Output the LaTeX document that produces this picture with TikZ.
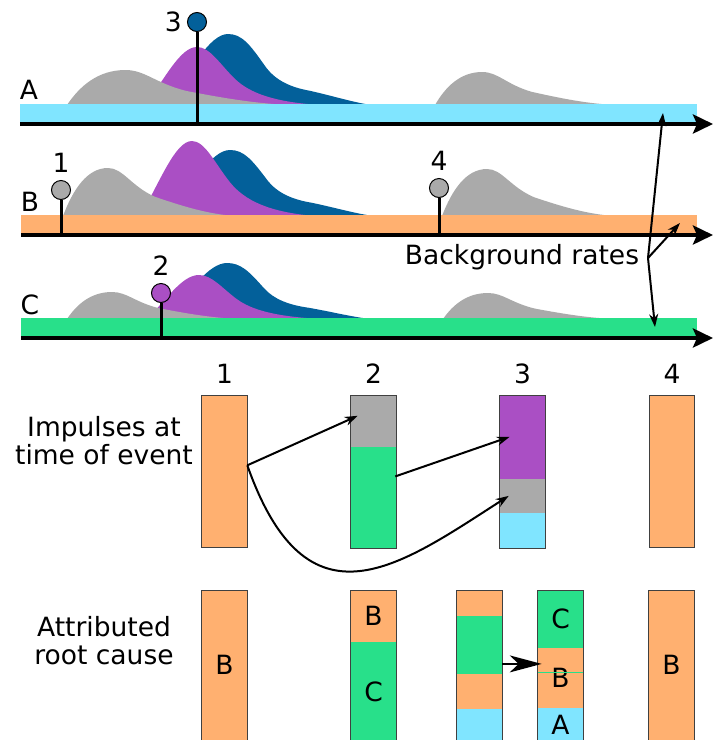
\documentclass[tikz,border=0pt]{standalone}
\usepackage{fontspec}
\setmainfont{DejaVu Sans}
\usepackage{tikz}
\usetikzlibrary{arrows.meta, positioning}

\definecolor{rateA}{HTML}{80E5FF}
\definecolor{rateB}{HTML}{FFB070}
\definecolor{rateC}{HTML}{28E08A}
\definecolor{bgimp}{HTML}{AAAAAA}
\definecolor{impmid}{HTML}{AA4FC4}
\definecolor{impdark}{HTML}{03609A}

% humps: start, baseline, height (and stretch for the grey one)
\newcommand{\bghump}[4]{\fill[bgimp, shift={(#1,#2)}, xscale=#4, yscale=-#3]
  (0,0) .. controls (10,0.55) and (24,1) .. (45,1) .. controls (60,1) and (68,0.62) .. (92,0.4)
  .. controls (120,0.2) and (145,0.04) .. (172,0) -- cycle;}
\newcommand{\midhump}[3]{\fill[impmid, shift={(#1,#2)}, yscale=-#3]
  (0,0) .. controls (20,0.45) and (35,1) .. (52,1) .. controls (65,1) and (75,0.7) .. (90,0.45)
  .. controls (105,0.2) and (130,0.05) .. (175,0) -- cycle;}
\newcommand{\darkhump}[3]{\fill[impdark, shift={(#1,#2)}, yscale=-#3]
  (0,0) .. controls (20,0.5) and (40,1) .. (58,1) .. controls (72,1) and (80,0.85) .. (95,0.55)
  .. controls (105,0.35) and (120,0.25) .. (140,0.2) .. controls (165,0.12) and (185,0.03) .. (202,0) -- cycle;}

\tikzset{
  axis/.style={line width=4pt, -{Stealth[length=20pt, width=19pt, inset=4pt]}},
  stem/.style={line width=3pt},
  blob/.style={circle, draw=black, line width=1pt, fill=#1, minimum size=19pt},
  link/.style={line width=2pt, -{Stealth[length=13pt, width=9pt]}},
  bigtip/.style={line width=1.5pt, -{Stealth[length=32pt, width=17pt, inset=9pt]}},
  seg/.style={fill=#1, draw=#1, line width=0.6pt, minimum width=45pt},
  frame/.style={draw=black!75, line width=0.8pt}
}

\begin{document}
\begin{tikzpicture}[x=1pt, y=-1pt,
    every node/.style={font=\fontsize{26.5}{28}\selectfont, inner sep=0pt}]
    \useasboundingbox (0,0) rectangle (714,740);

    % Impulse responses on the three time lines
    \darkhump{170}{105}{71}
    \midhump{145}{105}{58}
    \bghump{67}{105}{35}{1.3}
    \bghump{435}{105}{33}{1.05}

    \darkhump{172}{216}{66}
    \midhump{140}{216}{75}
    \bghump{63}{216}{48}{1}
    \bghump{442}{216}{47}{1}

    \darkhump{169}{319}{56}
    \midhump{147}{319}{44}
    \bghump{67}{319}{27}{1}
    \bghump{443}{319}{26}{1}

    % Background rate bars
    \fill[rateA] (20,104) rectangle (697,122);
    \fill[rateB] (21,215) rectangle (697,233.5);
    \fill[rateC] (21,318) rectangle (697,336);

    % Time axes
    \coordinate (axA) at (20,124);
    \coordinate (axB) at (21,235);
    \coordinate (axC) at (21,338);
    \draw[axis] (axA) -- (713,124);
    \draw[axis] (axB) -- (713,235);
    \draw[axis] (axC) -- (713,338);

    % Process labels
    \node (pA) at (29,90) {A};
    \node (pB) at (30,202) {B};
    \node (pC) at (30,305) {C};

    % Events
    \node[blob=bgimp] (ev1) at (61,190) {};
    \node[above=7pt of ev1] (n1) {1};
    \draw[stem] (ev1) -- (ev1 |- axB);

    \node[blob=impmid] (ev2) at (161,293) {};
    \node[above=7pt of ev2] (n2) {2};
    \draw[stem] (ev2) -- (ev2 |- axC);

    \node[blob=impdark] (ev3) at (197,22) {};
    \node[left=5pt of ev3] (n3) {3};
    \draw[stem] (ev3) -- (ev3 |- axA);

    \node[blob=bgimp] (ev4) at (439,188) {};
    \node[above=7pt of ev4] (n4) {4};
    \draw[stem] (ev4) -- (ev4 |- axB);

    % Background rates
    \node (bgtext) at (522,257) {Background rates};
    \coordinate (fork) at (648,258);
    \coordinate (tgtA) at (663,113);
    \coordinate (tgtB) at (680,223);
    \coordinate (tgtC) at (655,327);
    \draw[link] (fork) -- (tgtA);
    \draw[link] (fork) -- (tgtB);
    \draw[link] (fork) -- (tgtC);

    % Impulses at time of event
    \node[align=center] (imptext) at (104,441) {Impulses at\\time of event};
    \node[seg=rateB, minimum height=152pt, anchor=north] (i1) at (224.5,395) {};
    \node[seg=bgimp, minimum height=51pt, anchor=north] (i2top) at (373.5,395) {};
    \node[seg=rateC, minimum height=101pt, below=0pt of i2top] (i2low) {};
    \node[seg=impmid, minimum height=83pt, anchor=north] (i3top) at (522.5,395) {};
    \node[seg=bgimp, minimum height=34pt, below=0pt of i3top] (i3mid) {};
    \node[seg=rateA, minimum height=35pt, below=0pt of i3mid] (i3low) {};
    \node[seg=rateB, minimum height=152pt, anchor=north] (i4) at (672,395) {};
    \draw[frame] (i1.north west) rectangle (i1.south east);
    \draw[frame] (i2top.north west) rectangle (i2low.south east);
    \draw[frame] (i3top.north west) rectangle (i3low.south east);
    \draw[frame] (i4.north west) rectangle (i4.south east);

    \node[above=11pt of i1] (c1) {1};
    \node[above=11pt of i2top] (c2) {2};
    \node[above=11pt of i3top] (c3) {3};
    \node[above=11pt of i4] (c4) {4};

    \draw[link] ([yshift=6pt]i1.east) -- ([xshift=7pt, yshift=5pt]i2top.west);
    \draw[link] ([yshift=6pt]i1.east) .. controls +(60,170) and +(-109,70) .. ([xshift=9pt]i3mid.west);
    \draw[link] ([xshift=-1pt, yshift=21pt]i2low.east) -- ([xshift=10pt]i3top.west);

    % Attributed root cause
    \node[align=center] (roottext) at (104,641) {Attributed\\root cause};
    \node[seg=rateB, minimum height=150pt, anchor=north] (r1) at (224.5,590) {B};
    \node[seg=rateB, minimum height=51pt, anchor=north] (r2top) at (373.5,590) {B};
    \node[seg=rateC, minimum height=99pt, below=0pt of r2top] (r2low) {C};

    \node[seg=rateB, minimum height=25pt, anchor=north] (r3a1) at (479.5,590) {};
    \node[seg=rateC, minimum height=58pt, below=0pt of r3a1] (r3a2) {};
    \node[seg=rateB, minimum height=34pt, below=0pt of r3a2] (r3a3) {};
    \node[seg=rateA, minimum height=33pt, below=0pt of r3a3] (r3a4) {};

    \node[seg=rateC, minimum height=57pt, anchor=north] (r3b1) at (560.5,590) {C};
    \node[seg=rateB, minimum height=60pt, below=0pt of r3b1] (r3b2) {B};
    \node[seg=rateA, minimum height=33pt, below=0pt of r3b2] (r3b3) {A};
    \draw[rateC, line width=1pt] ([yshift=-25pt]r3b2.north west) -- ([yshift=-25pt]r3b2.north east);

    \node[seg=rateB, minimum height=150pt, anchor=north] (r4) at (671.5,590) {B};
    \draw[frame] (r1.south west) |- (r1.north east) -- (r1.south east);
    \draw[frame] (r2low.south west) |- (r2top.north east) -- (r2low.south east);
    \draw[frame] (r3a4.south west) |- (r3a1.north east) -- (r3a4.south east);
    \draw[frame] (r3b3.south west) |- (r3b1.north east) -- (r3b3.south east);
    \draw[frame] (r4.south west) |- (r4.north east) -- (r4.south east);

    \draw[bigtip] ([yshift=-19pt]r3a2.east) -- ([xshift=4pt, yshift=14pt]r3b2.west);
\end{tikzpicture}
\end{document}
